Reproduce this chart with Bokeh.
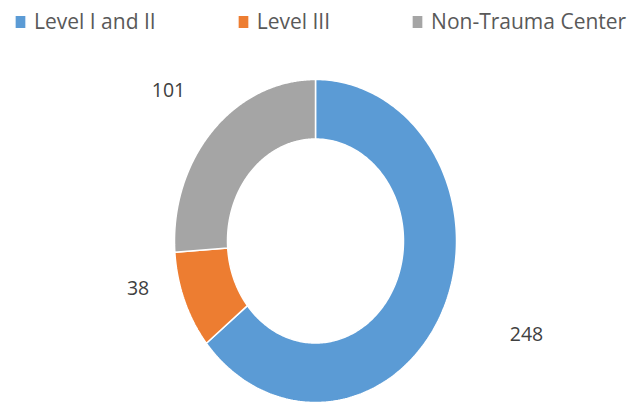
import numpy as np
from bokeh.plotting import figure
from bokeh.models import Range1d, Legend, LegendItem
from bokeh.core.properties import value
from bokeh.embed import file_html
from bokeh.resources import INLINE

# ---- data ----
categories = ["Level I and II", "Level III", "Non-Trauma Center"]
counts = [248, 38, 101]
colors = ["#5B9BD5", "#ED7D31", "#A5A5A5"]

# ---- layout (pixel-like data units, y up) ----
W, H = 639, 404
CX, CY = 315.0, 404 - 240.5
RX_OUT, RY_OUT = 141.0, 161.5
RX_IN, RY_IN = 88.0, 102.0
LABEL_OFFSETS = [(83.6, -23.4), (-46.4, 12.6), (-43.9, 40.4)]

p = figure(width=W, height=H, x_range=Range1d(0, W), y_range=Range1d(0, H),
           output_backend="svg", toolbar_location=None, min_border=0)
p.axis.visible = False
p.grid.visible = False
p.outline_line_color = None
p.background_fill_color = "white"

total = float(sum(counts))
cum = np.concatenate([[0.0], np.cumsum(counts)])
starts = 90.0 - cum[:-1] / total * 360.0
ends = 90.0 - cum[1:] / total * 360.0

renderers = []
label_x, label_y = [], []
for i, (cat, c, col) in enumerate(zip(categories, counts, colors)):
    t = np.radians(np.linspace(starts[i], ends[i], 240))
    xs = np.concatenate([CX + RX_OUT * np.cos(t), CX + RX_IN * np.cos(t[::-1])])
    ys = np.concatenate([CY + RY_OUT * np.sin(t), CY + RY_IN * np.sin(t[::-1])])
    r = p.patch(xs, ys, fill_color=col, line_color="white", line_width=1.5)
    renderers.append(r)
    mid = np.radians((starts[i] + ends[i]) / 2.0)
    ox, oy = LABEL_OFFSETS[i]
    label_x.append(CX + RX_OUT * np.cos(mid) + ox)
    label_y.append(CY + RY_OUT * np.sin(mid) + oy)

p.text(x=label_x, y=label_y, text=[str(c) for c in counts],
       text_font=value("Open Sans"), text_font_size="19.5px",
       text_color="#404040", text_align="center", text_baseline="middle")

legend = Legend(items=[LegendItem(label=cat, renderers=[r]) for cat, r in zip(categories, renderers)],
                orientation="horizontal", location=(13, H - 35),
                padding=0, margin=0, spacing=80,
                glyph_width=14, glyph_height=17, label_height=21, label_standoff=7,
                label_text_font="Open Sans", label_text_font_size="21px",
                label_text_color="#595959",
                border_line_color=None, background_fill_alpha=0)
p.add_layout(legend)

open("out.html", "w").write(file_html(p, INLINE))
